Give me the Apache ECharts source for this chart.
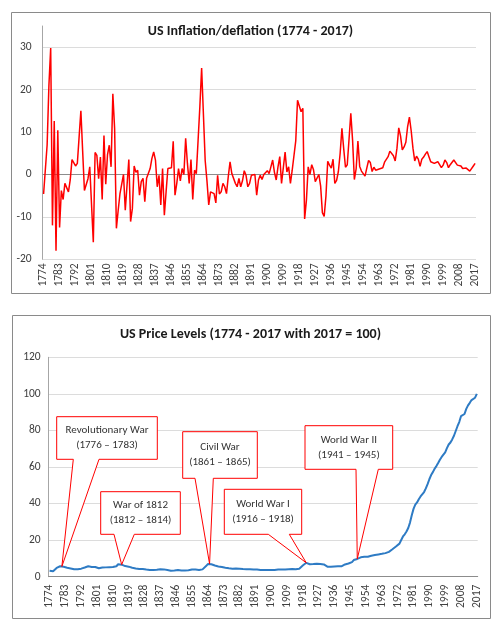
<!DOCTYPE html>
<html>
<head>
<meta charset="utf-8">
<script src="https://cdn.jsdelivr.net/npm/echarts@6/dist/echarts.min.js"></script>
<style>
html,body{margin:0;padding:0;background:#fff;}
#chart{width:501px;height:630px;}
</style>
</head>
<body>
<div id="chart"></div>
<script>
// ---- data ----
const startYear = 1774, endYear = 2017;
const years = [];
for (let y = startYear; y <= endYear; y++) years.push(String(y));

// annual inflation / deflation, % (1774 - 2017)
const inflation = [
  -4.6,-4.9,7,21,29.8,-12,12.6,-18,10.4,-12.5,          // 1774-1783
  -3.8,-5.9,-2.1,-2.1,-4.1,-1.3,3.5,3.2,2.0,2.6,        // 1784-1793
  8.8,15,5.5,-3.8,-4.1,-1.0,1.8,1.9,-16,5.2,            // 1794-1803
  4.5,-1,4.1,-5.9,9.2,-2.3,4.7,6.9,1.8,19,              // 1804-1813
  10.8,-12.7,-8.5,-4.6,-4.5,0,-8.4,-2.5,3.5,-11.1,      // 1814-1823
  -8,2,0.5,1,-4.9,-1.7,-0.9,-6.4,-0.9,-0.7,             // 1824-1833
  1.4,3.8,5.3,3.4,-2.9,-0.2,-7.2,1.4,-9.6,-4,           // 1834-1843
  1.4,1.4,1.6,7.8,-4.9,-2.1,1.4,-1.5,1.4,0,             // 1844-1853
  8.5,2.6,-2.1,3.5,-5.9,1.0,0.2,8,16,25.1,              // 1854-1863
  25.3,3.3,-1.5,-7.2,-4.1,-4.1,-4.5,-6.7,-0.2,-4.6,     // 1864-1873
  -4.1,-2.1,-2.9,-4.5,-0.5,3.0,0.2,-0.2,-2.1,-2.9,      // 1874-1883
  -0.9,-2.9,-1.5,0.9,-0.2,-2.9,-2.1,-0.2,0,0,           // 1884-1893
  -4.9,-1.3,-0.2,-1.2,0,0.2,0.9,0.2,1.8,3.4,            // 1894-1903
  0.5,-1.3,1.8,4.2,-2.1,-2.1,5.3,0.6,1.8,-2.1,          // 1904-1913
  1.0,1.0,7.9,17.5,17.9,14.8,15.6,-10.5,-6.1,1.8,       // 1914-1923
  0,2.3,1.1,-1.7,-1.7,0,-2.7,-9.0,-9.9,-5.1,            // 1924-1933
  3.1,2.2,1.5,3.6,-2.1,-1.4,0.7,5.0,10.9,6.1,           // 1934-1943
  1.7,2.3,8.3,14.4,8.1,-1.2,1.3,7.9,1.9,0.8,            // 1944-1953
  0.7,-0.4,1.5,3.3,2.8,0.7,1.7,1.0,1.0,1.3,             // 1954-1963
  1.3,1.6,2.9,3.1,4.2,5.5,5.7,4.4,3.2,6.2,              // 1964-1973
  11.0,9.1,5.8,6.5,7.6,11.3,13.5,10.3,6.2,3.2,          // 1974-1983
  4.3,3.6,1.9,3.6,4.1,4.8,5.4,4.2,3.0,3.0,              // 1984-1993
  2.6,2.8,3.0,2.3,1.6,2.2,3.4,2.8,1.6,2.3,              // 1994-2003
  2.7,3.4,3.0,2.2,2.4,2.0,1.4,1.8,1.5,1.2,              // 2004-2013
  0.8,0.8,2.0,2.6                                       // 2014-2017
];

// price level, 2017 = 100 (1774 - 2017)
const priceLevels = [
  3.3,3.2,3.0,3.6,4.8,5.8,5.7,5.6,5.4,5.1,              // 1774-1783
  4.9,4.7,4.5,4.3,4.1,4.0,4.1,4.3,4.4,4.6,              // 1784-1793
  5.0,5.6,5.7,5.5,5.3,5.2,5.3,5.4,4.6,4.8,              // 1794-1803
  5.0,4.9,5.1,4.8,5.2,5.1,5.3,5.6,5.7,6.8,              // 1804-1813
  7.4,6.6,6.0,5.8,5.5,5.5,5.1,4.9,5.0,4.5,              // 1814-1823
  4.2,4.2,4.2,4.2,4.0,3.9,3.9,3.7,3.6,3.6,              // 1824-1833
  3.7,3.8,4.0,4.1,4.0,4.0,3.7,3.7,3.4,3.3,              // 1834-1843
  3.3,3.4,3.4,3.7,3.5,3.4,3.5,3.4,3.5,3.5,              // 1844-1853
  3.8,3.9,3.8,3.9,3.7,3.7,3.7,4.0,4.6,5.8,              // 1854-1863
  6.9,7.0,6.8,6.4,6.1,5.9,5.6,5.3,5.3,5.1,              // 1864-1873
  4.9,4.8,4.6,4.4,4.4,4.5,4.5,4.5,4.4,4.3,              // 1874-1883
  4.2,4.1,4.1,4.1,4.1,4.0,3.9,3.9,3.9,3.9,              // 1884-1893
  3.7,3.7,3.7,3.6,3.6,3.6,3.7,3.7,3.7,3.9,              // 1894-1903
  3.9,3.8,3.9,4.1,4.0,3.9,4.1,4.1,4.2,4.0,              // 1904-1913
  4.1,4.1,4.4,5.2,6.1,6.9,7.6,7.1,6.8,6.9,              // 1914-1923
  6.9,7.0,7.1,7.0,6.9,6.9,6.7,6.1,5.5,5.2,              // 1924-1933
  5.4,5.5,5.6,5.8,5.7,5.6,5.7,6.0,6.7,7.1,              // 1934-1943
  7.2,7.3,8.0,9.1,9.8,9.7,9.8,10.6,10.8,10.9,           // 1944-1953
  11.0,10.9,11.1,11.5,11.8,11.9,12.1,12.2,12.3,12.5,    // 1954-1963
  12.6,12.9,13.2,13.6,14.2,15.0,15.8,16.5,17.1,18.1,    // 1964-1973
  20.1,22.0,23.2,24.7,26.6,29.6,33.6,37.1,39.4,40.6,    // 1974-1983
  42.4,43.9,44.7,46.3,48.3,50.6,53.3,55.6,57.2,59.0,    // 1984-1993
  60.5,62.2,64.0,65.5,66.5,68.0,70.3,72.3,73.4,75.1,    // 1994-2003
  77.1,79.7,82.3,84.6,87.8,87.5,89.0,91.8,93.7,95.1,    // 2004-2013
  96.6,96.7,97.9,100                                    // 2014-2017
];

// annotations: label lines and the year the pointer refers to
const callouts = [
  {line1:'Revolutionary War', line2:'(1776 – 1783)', year:'1781', box:[56.7,416.7,157.3,459.3], base:[73.3,99]},
  {line1:'War of 1812',       line2:'(1812 – 1814)', year:'1815', box:[100.7,491.7,180.3,534.3], base:[114,134.3]},
  {line1:'Civil War',         line2:'(1861 – 1865)', year:'1865', box:[182.7,431.7,257.3,478.3], base:[195,213.3]},
  {line1:'World War I',       line2:'(1916 – 1918)', year:'1920', box:[224.3,489.3,301.7,534.3], base:[268.3,289.3]},
  {line1:'World War II',      line2:'(1941 – 1945)', year:'1949', box:[305,425.7,392.7,469.3], base:[356,378.3]}
];

// ---- chart ----
const FONT = 'Carlito, Lato, "Open Sans", sans-serif';
const TXT = '#404040';
const chart = echarts.init(document.getElementById('chart'), null, {renderer:'canvas'});

const option = {
  animation: false,
  backgroundColor: '#fff',
  title: [
    {text:'US Inflation/deflation (1774 - 2017)', left:'center', top:24, padding:0,
     textStyle:{fontSize:14, fontWeight:'bold', color:'#1a1a1a', fontFamily:FONT}},
    {text:'US Price Levels (1774 - 2017 with 2017 = 100)', left:'center', top:327, padding:0,
     textStyle:{fontSize:14, fontWeight:'bold', color:'#1a1a1a', fontFamily:FONT}}
  ],
  grid: [
    {left:42.7, top:26, width:433.3, height:233.3},
    {left:48.7, top:357.3, width:429, height:219.4}
  ],
  xAxis: [
    {type:'category', gridIndex:0, data:years, boundaryGap:true,
     axisLine:{show:false, onZero:false}, axisTick:{show:false},
     axisLabel:{interval:8, rotate:90, margin:4, fontSize:11.5, color:TXT, fontFamily:FONT},
     splitLine:{show:false}},
    {type:'category', gridIndex:1, data:years, boundaryGap:true,
     axisLine:{show:true, onZero:false, lineStyle:{color:'#8c8c8c', width:1}}, axisTick:{show:false},
     axisLabel:{interval:8, rotate:90, margin:8, fontSize:11.5, color:TXT, fontFamily:FONT},
     splitLine:{show:false}}
  ],
  yAxis: [
    {type:'value', gridIndex:0, min:-20, max:35, interval:10,
     axisLine:{show:true, lineStyle:{color:'#a6a6a6'}}, axisTick:{show:false},
     axisLabel:{showMaxLabel:false, margin:11, fontSize:11.5, color:TXT, fontFamily:FONT},
     splitLine:{show:true, showMaxLine:false, lineStyle:{color:'#dcdcdc', width:1}}},
    {type:'value', gridIndex:1, min:0, max:120, interval:20,
     axisLine:{show:true, lineStyle:{color:'#a6a6a6'}}, axisTick:{show:false},
     axisLabel:{margin:8, fontSize:11.5, color:TXT, fontFamily:FONT},
     splitLine:{show:true, lineStyle:{color:'#dcdcdc', width:1}}}
  ],
  series: [
    {type:'line', xAxisIndex:0, yAxisIndex:0, data:inflation, showSymbol:false, z:3,
     lineStyle:{color:'#ff0000', width:1.5}, itemStyle:{color:'#ff0000'},
     markLine:{silent:true, symbol:'none', label:{show:false}, z:2,
       lineStyle:{color:'#8c8c8c', type:'solid', width:1}, data:[{yAxis:0}]}},
    {type:'line', xAxisIndex:1, yAxisIndex:1, data:priceLevels, showSymbol:false, z:3,
     lineStyle:{color:'#2e7bc4', width:2}, itemStyle:{color:'#2e7bc4'}}
  ]
};
chart.setOption(option);

// borders and callouts
const graphics = [
  {type:'rect', shape:{x:11.5, y:12.5, width:479, height:281}, style:{fill:null, stroke:'#8a8a8a', lineWidth:1}, z:0, silent:true},
  {type:'rect', shape:{x:12.5, y:315.5, width:478, height:303}, style:{fill:null, stroke:'#8a8a8a', lineWidth:1}, z:0, silent:true}
];
callouts.forEach(c => {
  const idx = years.indexOf(c.year);
  const tip = chart.convertToPixel({xAxisIndex:1, yAxisIndex:1}, [idx, priceLevels[idx]]);
  const [x0,y0,x1,y1] = c.box;
  graphics.push({
    type:'polygon', z:100, silent:true,
    shape:{points:[[x0,y0],[x1,y0],[x1,y1],[c.base[1],y1],[tip[0],tip[1]],[c.base[0],y1],[x0,y1]]},
    style:{fill:'#ffffff', stroke:'#ff0000', lineWidth:1}
  });
  const cx = (x0+x1)/2, cy = (y0+y1)/2;
  [[c.line1, cy-7.7],[c.line2, cy+7.7]].forEach(([t,yy]) => {
    graphics.push({
      type:'text', z:101, silent:true, x:cx, y:yy,
      style:{text:t, fill:'#333333', font:'11px ' + FONT, align:'center', verticalAlign:'middle',
             textAlign:'center', textVerticalAlign:'middle'}
    });
  });
});
chart.setOption({graphic:graphics});
</script>
</body>
</html>
